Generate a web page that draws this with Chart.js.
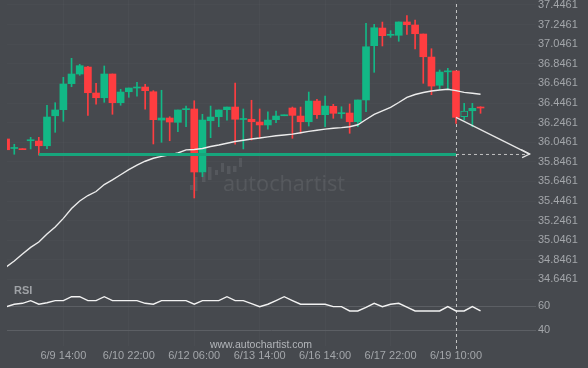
<!DOCTYPE html>
<html><head><meta charset="utf-8">
<script src="https://cdn.jsdelivr.net/npm/chart.js@4.4.1/dist/chart.umd.min.js"></script>
<style>html,body{margin:0;padding:0;background:#46494e;overflow:hidden}canvas{display:block}</style>
</head><body>
<canvas id="c" width="588" height="368"></canvas>
<script>
// ---- data ----
const opens  = [36.079,35.982,35.980,36.061,36.058,36.010,36.316,36.378,36.643,36.742,36.813,36.548,36.500,36.742,36.449,36.561,36.599,36.609,36.561,36.272,36.293,36.249,36.378,36.385,35.742,36.265,36.306,36.378,36.405,36.278,36.280,36.252,36.222,36.276,36.316,36.395,36.313,36.255,36.466,36.327,36.412,36.337,36.344,36.255,36.477,37.031,37.211,37.137,37.137,37.273,37.242,37.150,36.915,36.627,36.764,36.773,36.306,36.367,36.402];
const highs  = [36.085,36.025,35.980,36.096,36.096,36.423,36.449,36.708,36.902,36.841,36.820,36.647,36.824,36.742,36.586,36.599,36.657,36.637,36.572,36.576,36.306,36.375,36.415,36.469,36.331,36.415,36.375,36.405,36.650,36.385,36.474,36.385,36.357,36.364,36.324,36.405,36.405,36.558,36.484,36.517,36.433,36.408,36.436,36.477,37.259,37.249,37.272,37.184,37.273,37.337,37.293,37.150,37.000,36.783,36.800,36.773,36.443,36.443,36.408];
const lows   = [35.965,35.923,35.970,35.977,35.915,35.980,36.147,36.259,36.612,36.729,36.320,36.433,36.453,36.331,36.423,36.504,36.517,36.382,36.028,36.045,36.061,36.153,36.204,35.477,35.694,36.092,36.204,36.272,36.025,35.977,36.068,36.089,36.178,36.245,36.316,36.086,36.137,36.211,36.290,36.204,36.290,36.290,36.137,36.204,36.357,36.759,37.028,37.116,37.076,37.147,36.997,36.647,36.531,36.586,36.592,36.239,36.272,36.204,36.341];
const closes = [35.969,35.989,35.970,36.068,36.010,36.303,36.375,36.640,36.742,36.827,36.551,36.500,36.742,36.449,36.558,36.599,36.606,36.572,36.276,36.293,36.252,36.375,36.385,35.742,36.272,36.303,36.375,36.405,36.280,36.284,36.255,36.222,36.272,36.313,36.324,36.320,36.255,36.466,36.327,36.415,36.341,36.343,36.255,36.477,37.020,37.214,37.133,37.142,37.273,37.245,37.153,36.918,36.619,36.762,36.770,36.300,36.364,36.392,36.395];
const maValues = [34.773,34.834,34.905,34.973,35.028,35.109,35.181,35.269,35.369,35.446,35.502,35.543,35.614,35.662,35.714,35.767,35.813,35.852,35.882,35.902,35.917,35.936,35.968,35.971,35.982,36.002,36.017,36.035,36.053,36.066,36.079,36.089,36.101,36.112,36.120,36.129,36.142,36.156,36.168,36.180,36.188,36.195,36.204,36.224,36.278,36.329,36.366,36.402,36.451,36.504,36.533,36.553,36.568,36.579,36.586,36.572,36.555,36.545,36.535];
const rsiValues = [59.7,61.7,62.5,64.7,61.7,63.0,64.7,64.7,68.0,68.0,64.7,64.7,68.0,64.7,64.7,64.7,64.7,62.5,61.7,64.7,64.7,64.7,64.7,61.7,64.7,64.7,64.7,68.0,64.7,64.7,62.2,59.7,61.7,64.8,68.0,64.8,61.7,61.7,61.7,61.7,59.7,59.7,56.1,56.1,59.1,62.5,59.7,61.7,62.5,59.3,56.1,56.1,56.1,56.1,59.7,56.1,56.1,59.7,56.1];
const hollowIndex = 56;
const markerIndex = 55;
const supportLevel = 35.921;
const supportStart = 4;
const forecastEnd = 64;
const arrowTarget = 35.925;
const tickPositions = [7,15,23,31,39,47,55];
const tickLabels = ['6/9 14:00','6/10 22:00','6/12 06:00','6/13 14:00','6/16 14:00','6/17 22:00','6/19 10:00'];
const priceTicks = ['34.6461','34.8461','35.0461','35.2461','35.4461','35.6461','35.8461','36.0461','36.2461','36.4461','36.6461','36.8461','37.0461','37.2461','37.4461'];
const rsiTicks = [40, 60];

// ---- style ----
const BG = '#46494e';
const GREEN = '#12b886';
const RED = '#ff3d40';
const TICK = '#a3a6aa';
Chart.defaults.font.family = '"Liberation Sans", Arial, sans-serif';
Chart.defaults.font.size = 11;

const isUp = i => closes[i] >= opens[i];
const candleColor = i => isUp(i) ? GREEN : RED;

const deco = {
  id: 'deco',
  beforeDraw(chart) {
    const {ctx, width, height} = chart;
    ctx.save(); ctx.fillStyle = BG; ctx.fillRect(0, 0, width, height); ctx.restore();
  },
  beforeDatasetsDraw(chart) {
    const {ctx, chartArea, scales} = chart;
    ctx.save();
    // watermark
    ctx.fillStyle = 'rgba(255,255,255,0.085)';
    const bars = [[190,185,190,3],[195,177,191,2.5],[202,173,182,3.5],[208,167,180,3.5],[215,170,175,3],[221,163,172,3],[227,166,174,3.5],[233,166,172,3.5],[239,158,167,3]];
    bars.forEach(b => ctx.fillRect(b[0], b[1], b[3], b[2]-b[1]));
    ctx.font = '20px "Open Sans", sans-serif';
    const w = ctx.measureText('autochartist').width;
    const fs = 20 * 122 / w;
    ctx.font = fs.toFixed(2) + 'px "Open Sans", sans-serif';
    ctx.textBaseline = 'alphabetic';
    ctx.fillText('autochartist', 223, 190.5);
    // vertical dashed marker
    const x = Math.round(scales.x.getPixelForValue(markerIndex)) + 0.5;
    ctx.strokeStyle = 'rgba(215,215,215,0.85)';
    ctx.lineWidth = 1;
    ctx.setLineDash([3, 3]);
    ctx.beginPath(); ctx.moveTo(x, chartArea.top + 4); ctx.lineTo(x, chartArea.bottom + 4); ctx.stroke();
    ctx.restore();
  },
  afterDatasetsDraw(chart) {
    const {ctx, chartArea, scales} = chart;
    ctx.save();
    // arrow head
    const tx = scales.x.getPixelForValue(forecastEnd), ty = scales.y.getPixelForValue(arrowTarget);
    ctx.strokeStyle = '#e6e6e6'; ctx.lineWidth = 1.3;
    ctx.beginPath();
    ctx.moveTo(tx - 8.5, ty - 4.5); ctx.lineTo(tx, ty); ctx.lineTo(tx - 7.5, ty + 3.5);
    ctx.stroke();
    // RSI caption
    ctx.fillStyle = '#9fa2a6';
    ctx.font = 'bold 11px "Liberation Sans", Arial, sans-serif';
    ctx.textBaseline = 'middle'; ctx.textAlign = 'left';
    ctx.fillText('RSI', 14, scales.rsi.top + 5);
    // footer url
    ctx.fillStyle = '#b3b6ba';
    ctx.font = '10.5px "Liberation Sans", Arial, sans-serif';
    ctx.textAlign = 'center';
    ctx.fillText('www.autochartist.com', 261, chartArea.bottom - 1);
    ctx.restore();
  }
};

const fixW = s => { s.width = 52; s.paddingTop = 0; s.paddingBottom = 0; };

new Chart(document.getElementById('c'), {
  type: 'bar',
  data: {
    datasets: [
      { type: 'line', label: 'arrow', data: [{x: markerIndex, y: closes[markerIndex]}, {x: forecastEnd, y: arrowTarget}],
        borderColor: '#e6e6e6', borderWidth: 1.3, pointRadius: 0, yAxisID: 'y' },
      { type: 'line', label: 'support', data: [{x: supportStart, y: supportLevel}, {x: markerIndex, y: supportLevel}],
        borderColor: '#17a57c', borderWidth: 3, pointRadius: 0, yAxisID: 'y' },
      { type: 'line', label: 'support ext', data: [{x: markerIndex, y: supportLevel}, {x: forecastEnd, y: supportLevel}],
        borderColor: 'rgba(215,215,215,0.85)', borderWidth: 1, borderDash: [3, 3], pointRadius: 0, yAxisID: 'y' },
      { type: 'line', label: 'MA', data: maValues.map((v, i) => ({x: i, y: v})),
        borderColor: '#ececec', borderWidth: 1.4, pointRadius: 0, tension: 0, yAxisID: 'y' },
      { type: 'bar', label: 'body', data: opens.map((o, i) => ({x: i, y: [o, closes[i]]})),
        backgroundColor: c => c.dataIndex === hollowIndex ? BG : candleColor(c.dataIndex),
        borderColor: c => candleColor(c.dataIndex),
        borderWidth: c => c.dataIndex === hollowIndex ? 1 : 0,
        borderSkipped: false, grouped: false, barThickness: 7, minBarLength: 1, yAxisID: 'y', clip: 0 },
      { type: 'bar', label: 'wick', data: lows.map((l, i) => ({x: i, y: [l, highs[i]]})),
        backgroundColor: c => candleColor(c.dataIndex), borderWidth: 0,
        grouped: false, barThickness: 1, yAxisID: 'y', clip: 0 },
      { type: 'line', label: 'RSI', data: rsiValues.map((v, i) => ({x: i, y: v})),
        borderColor: '#f2f2f2', borderWidth: 1.4, pointRadius: 0, tension: 0, yAxisID: 'rsi' }
    ]
  },
  options: {
    responsive: false, animation: false, devicePixelRatio: 1, events: [],
    layout: { padding: { left: 7, right: 0, top: 0, bottom: 0 } },
    plugins: { legend: { display: false }, tooltip: { enabled: false } },
    scales: {
      x: {
        type: 'linear', position: 'bottom', min: 0.11, max: 64.78, offset: false,
        grid: { color: 'rgba(255,255,255,0.025)', drawTicks: false, offset: false },
        border: { display: false },
        afterBuildTicks: s => { s.ticks = tickPositions.map(v => ({value: v})); },
        afterFit: s => { s.height = 22; s.paddingLeft = 0; s.paddingRight = 0; },
        ticks: { color: TICK, padding: 3, maxRotation: 0, autoSkip: false,
          callback: v => tickLabels[tickPositions.indexOf(v)] }
      },
      y: {
        type: 'linear', position: 'right', stack: 'panes', stackWeight: 286,
        min: 34.5788, max: 37.4971,
        grid: { color: 'rgba(255,255,255,0.02)', drawTicks: false },
        border: { display: false },
        afterBuildTicks: s => { s.ticks = priceTicks.map(t => ({value: parseFloat(t)})); },
        afterFit: fixW,
        ticks: { color: TICK, padding: 2, autoSkip: false, callback: v => v.toFixed(4) }
      },
      rsi: {
        type: 'linear', position: 'right', stack: 'panes', stackWeight: 60,
        min: 26.917, max: 76.917,
        grid: { color: '#5c5f64', drawTicks: false },
        border: { display: false },
        afterBuildTicks: s => { s.ticks = rsiTicks.map(v => ({value: v})); },
        afterFit: fixW,
        ticks: { color: TICK, padding: 2, autoSkip: false, callback: v => String(v) }
      }
    }
  },
  plugins: [deco]
});
</script>
</body></html>
